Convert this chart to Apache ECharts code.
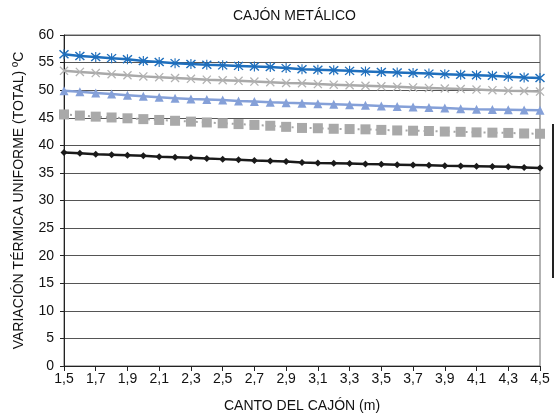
<!DOCTYPE html>
<html>
<head>
<meta charset="utf-8">
<script src="https://cdn.jsdelivr.net/npm/echarts@6/dist/echarts.min.js"></script>
<style>
  html, body { margin: 0; padding: 0; background: #fff; }
  #chart { width: 555px; height: 418px; }
</style>
</head>
<body>
<div id="chart"></div>
<script>
// canto del cajón, cada 0,1 m
const cantos = ['1,5','1,6','1,7','1,8','1,9','2,0','2,1','2,2','2,3','2,4','2,5','2,6','2,7','2,8','2,9','3,0',
                '3,1','3,2','3,3','3,4','3,5','3,6','3,7','3,8','3,9','4,0','4,1','4,2','4,3','4,4','4,5'];

const serieAsterisco = [56.5, 56.2, 56.0, 55.8, 55.6, 55.3, 55.1, 54.9, 54.75, 54.6, 54.5, 54.4, 54.3, 54.2, 54.0,
                        53.8, 53.7, 53.6, 53.5, 53.4, 53.3, 53.2, 53.1, 53.0, 52.9, 52.8, 52.7, 52.6, 52.45, 52.3, 52.2];
const serieAspa = [53.5, 53.3, 53.1, 52.9, 52.7, 52.5, 52.35, 52.2, 52.05, 51.9, 51.8, 51.7, 51.55, 51.45, 51.3,
                   51.25, 51.1, 51.0, 50.9, 50.8, 50.7, 50.6, 50.5, 50.4, 50.3, 50.2, 50.1, 50.0, 49.9, 49.85, 49.75];
const serieTriangulo = [49.9, 49.7, 49.5, 49.3, 49.1, 48.9, 48.7, 48.55, 48.4, 48.3, 48.2, 48.05, 47.95, 47.8, 47.7,
                        47.65, 47.55, 47.45, 47.35, 47.25, 47.15, 47.05, 46.95, 46.85, 46.75, 46.65, 46.55, 46.5, 46.45, 46.4, 46.35];
const serieCuadrado = [45.6, 45.4, 45.2, 45.05, 44.9, 44.75, 44.6, 44.45, 44.3, 44.15, 44.0, 43.85, 43.7, 43.55, 43.35,
                       43.15, 43.1, 43.0, 42.95, 42.9, 42.8, 42.7, 42.65, 42.6, 42.5, 42.45, 42.35, 42.3, 42.25, 42.15, 42.1];
const serieRombo = [38.7, 38.55, 38.4, 38.3, 38.2, 38.1, 37.95, 37.85, 37.75, 37.6, 37.5, 37.4, 37.25, 37.15, 37.05,
                    36.9, 36.8, 36.75, 36.7, 36.6, 36.55, 36.5, 36.45, 36.4, 36.3, 36.25, 36.2, 36.15, 36.1, 36.0, 35.9];

const fuente = "'Liberation Sans Narrow', 'Arial Narrow', 'Liberation Sans', sans-serif";
const tinta = '#111';

// marcadores tipo Excel: asterisco y aspa
const aspa = 'M2.9 1.1 L18.9 17.1 L17.1 18.9 L1.1 2.9 Z M17.1 1.1 L18.9 2.9 L2.9 18.9 L1.1 17.1 Z';
const asterisco = aspa + ' M9 0 L11 0 L11 20 L9 20 Z';

const myChart = echarts.init(document.getElementById('chart'), null, { renderer: 'canvas' });

const option = {
    backgroundColor: '#fff',
    animation: false,
    textStyle: { fontFamily: fuente },
    graphic: [
        {
            type: 'text', left: 233, top: 9,
            style: { text: 'CAJÓN METÁLICO', font: '14px ' + fuente, fill: tinta }
        },
        {
            // borde de la leyenda, cortada en el original
            type: 'line', shape: { x1: 553, y1: 124, x2: 553, y2: 278 },
            style: { stroke: '#222', lineWidth: 2 }
        }
    ],
    grid: {
        left: 64, right: 15, top: 35, bottom: 50,
        show: true, borderColor: '#666', borderWidth: 1
    },
    xAxis: {
        type: 'category',
        data: cantos,
        boundaryGap: false,
        name: 'CANTO DEL CAJÓN (m)',
        nameLocation: 'middle',
        nameGap: 33,
        nameTextStyle: { fontSize: 14, color: tinta, fontFamily: fuente },
        axisLine: { lineStyle: { color: '#222', width: 1 } },
        axisTick: { interval: 1, length: 5, lineStyle: { color: '#222' } },
        axisLabel: { interval: 1, fontSize: 14, color: tinta, margin: 6, fontFamily: fuente },
        splitLine: { show: false }
    },
    yAxis: {
        type: 'value',
        min: 0, max: 60, interval: 5,
        name: 'VARIACIÓN TÉRMICA UNIFORME (TOTAL) ºC',
        nameLocation: 'middle',
        nameGap: 38,
        nameTextStyle: { fontSize: 14, color: tinta, fontFamily: fuente },
        axisLine: { show: true, lineStyle: { color: '#222', width: 1 } },
        axisTick: { show: true, length: 4, lineStyle: { color: '#222' } },
        axisLabel: { fontSize: 14, color: tinta, margin: 10, fontFamily: fuente },
        splitLine: { lineStyle: { color: '#555', width: 1 } }
    },
    series: [
        {
            name: 'rombo', type: 'line', data: serieRombo,
            symbol: 'diamond', symbolSize: 7,
            lineStyle: { color: '#1a1a1a', width: 2.5 },
            itemStyle: { color: '#1a1a1a' }
        },
        {
            name: 'cuadrado', type: 'line', data: serieCuadrado,
            symbol: 'rect', symbolSize: 10,
            lineStyle: { color: '#a6a6a6', width: 2, type: [2, 4] },
            itemStyle: { color: '#a9a9a9' }
        },
        {
            name: 'triangulo', type: 'line', data: serieTriangulo,
            symbol: 'triangle', symbolSize: 9,
            lineStyle: { color: '#85a0d8', width: 2.5 },
            itemStyle: { color: '#85a0d8' }
        },
        {
            name: 'aspa', type: 'line', data: serieAspa,
            symbol: 'path://' + aspa, symbolSize: 9,
            lineStyle: { color: '#a9a9a9', width: 2.5 },
            itemStyle: { color: '#b3b3b3' }
        },
        {
            name: 'asterisco', type: 'line', data: serieAsterisco,
            symbol: 'path://' + asterisco, symbolSize: 10,
            lineStyle: { color: '#1f6fbd', width: 2.5 },
            itemStyle: { color: '#1f6fbd' }
        }
    ]
};

myChart.setOption(option);
</script>
</body>
</html>
